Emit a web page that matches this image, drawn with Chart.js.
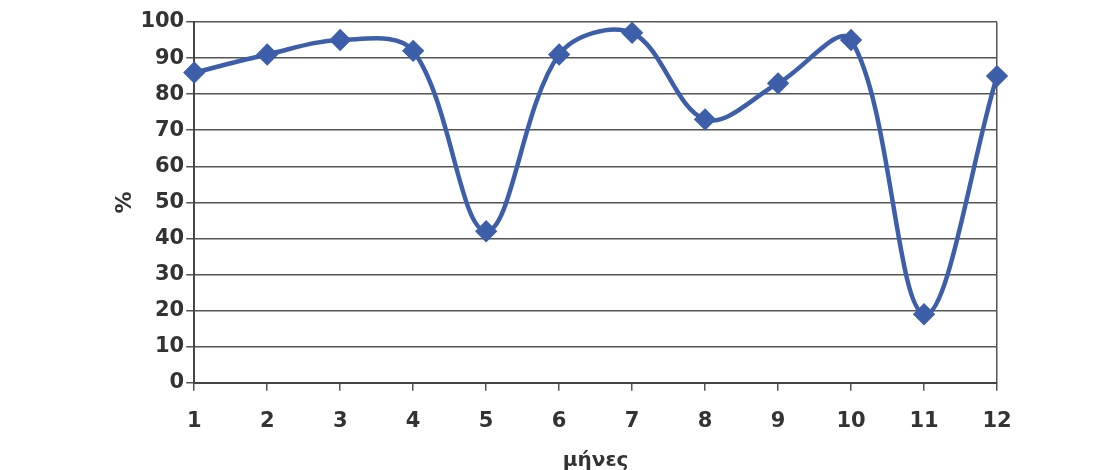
<!DOCTYPE html>
<html>
<head>
<meta charset="utf-8">
<script src="https://cdn.jsdelivr.net/npm/chart.js@4"></script>
<style>
  html, body { margin: 0; padding: 0; background: #fff; }
  #wrap { width: 1119px; height: 470px; }
</style>
</head>
<body>
<div id="wrap"><canvas id="chart" width="1119" height="470"></canvas></div>
<script>
// months on the x axis
const months = ['1', '2', '3', '4', '5', '6', '7', '8', '9', '10', '11', '12']
// percentage per month
const percent = [86, 91, 95, 92, 42, 91, 97, 73, 83, 95, 19, 85]

const xTitle = 'μήνες'
const yTitle = '%'

const lineColor = '#3d5ea8'
const gridColor = '#555555'
const tickFont = { family: 'DejaVu Sans', size: 21, weight: 'bold' }

const ctx = document.getElementById('chart').getContext('2d')
new Chart(ctx, {
  type: 'line',
  data: {
    labels: months,
    datasets: [{
      data: percent,
      borderColor: lineColor,
      backgroundColor: lineColor,
      borderWidth: 4.5,
      tension: 0.35,
      pointStyle: 'rectRot',
      pointRadius: 8,
      pointHoverRadius: 8,
      fill: false
    }]
  },
  options: {
    responsive: false,
    animation: false,
    layout: {
      padding: { left: 112, right: 122, top: 22, bottom: 0 }
    },
    scales: {
      x: {
        offset: false,
        grid: {
          color: (c) => (c.index === months.length - 1 ? gridColor : 'transparent'),
          tickColor: gridColor,
          tickLength: 8,
          lineWidth: 1.5
        },
        border: { color: '#444', width: 2 },
        ticks: { color: '#333', font: tickFont, padding: 18, maxRotation: 0 },
        title: {
          display: true,
          text: xTitle,
          color: '#333',
          font: { family: 'DejaVu Sans', size: 20, weight: 'bold', lineHeight: 0.9 },
          padding: { top: 0, bottom: 0 }
        }
      },
      y: {
        min: 0,
        max: 100,
        ticks: { stepSize: 10, color: '#333', font: tickFont, padding: 2 },
        grid: { color: gridColor, tickColor: gridColor, tickLength: 8, lineWidth: 1.5 },
        border: { color: '#444', width: 2 },
        title: {
          display: true,
          text: yTitle,
          color: '#333',
          font: { family: 'DejaVu Sans', size: 22, weight: 'bold' },
          padding: { top: 0, bottom: 0 }
        }
      }
    },
    plugins: {
      legend: { display: false },
      tooltip: { enabled: false }
    }
  }
})
</script>
</body>
</html>
